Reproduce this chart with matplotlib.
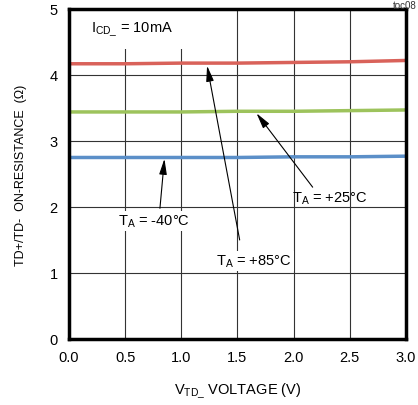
import matplotlib.pyplot as plt
from matplotlib.patches import Rectangle

# -- datos --
V_TD = [0.0, 0.5, 1.0, 1.5, 2.0, 2.5, 3.0]
R_85 = [4.17, 4.17, 4.18, 4.18, 4.19, 4.20, 4.22]
R_25 = [3.44, 3.44, 3.44, 3.45, 3.45, 3.46, 3.47]
R_M40 = [2.75, 2.75, 2.75, 2.75, 2.76, 2.76, 2.77]

XTICKS = [0.0, 0.5, 1.0, 1.5, 2.0, 2.5, 3.0]
YTICKS = [0, 1, 2, 3, 4, 5]

FONT = "Liberation Sans"
plt.rcParams.update({
    "font.family": [FONT, "DejaVu Sans"],
    "font.size": 10.5,
    "mathtext.fontset": "custom",
    "mathtext.rm": FONT,
    "mathtext.it": FONT,
})

fig = plt.figure(figsize=(4.18, 4.06), dpi=100)
ax = fig.add_axes([0.165, 0.1626, 0.806, 0.8128])

ax.plot(V_TD, R_85, color="#d9625a", lw=2.5, zorder=3)
ax.plot(V_TD, R_25, color="#9dc35c", lw=2.5, zorder=3)
ax.plot(V_TD, R_M40, color="#5b8fc8", lw=2.5, zorder=3)

ax.set_xlim(0, 3)
ax.set_ylim(0, 5)
ax.set_xticks(XTICKS)
ax.set_xticklabels([f"{x:.1f}" for x in XTICKS])
ax.set_yticks(YTICKS)
ax.tick_params(length=0, pad=8, labelsize=10.5)

# grid: horizontales por debajo del hueco blanco, verticales encima
ax.grid(axis="y", color="#333333", lw=0.8, zorder=0.5)
for x in XTICKS[1:-1]:
    ax.axvline(x, color="#333333", lw=0.8, zorder=2)
ax.add_patch(Rectangle((1.8, 1.9), 1.05, 0.2, facecolor="white",
                       edgecolor="none", zorder=1))

for s in ax.spines.values():
    s.set_linewidth(2.5)
    s.set_zorder(5)

ax.set_xlabel("V$_{\\mathrm{TD\\_}}$ VOLTAGE (V)", labelpad=12)
ax.set_ylabel("TD+/TD-  ON-RESISTANCE  (\u03a9)", labelpad=16, fontsize=9)

ax.text(0.2, 4.7, "I$_{\\mathrm{CD\\_}}$ = 10mA", va="center", ha="left",
        bbox=dict(facecolor="white", edgecolor="none", pad=8), zorder=2.5)

ap = dict(arrowstyle="-|>,head_length=0.9,head_width=0.22", color="black",
          lw=0.8, shrinkA=0, shrinkB=0)
ax.annotate("", xy=(0.85, 2.73), xytext=(0.81, 1.98), arrowprops=ap, zorder=4)
ax.annotate("", xy=(1.23, 4.14), xytext=(1.52, 1.50), arrowprops=ap, zorder=4)
ax.annotate("", xy=(1.67, 3.42), xytext=(2.17, 2.30), arrowprops=ap, zorder=4)

ax.text(0.76, 1.79, "T$_{\\mathrm{A}}$ = -40\u00b0C", ha="center", va="center",
        bbox=dict(facecolor="white", edgecolor="none", pad=1), zorder=4)
ax.text(1.65, 1.18, "T$_{\\mathrm{A}}$ = +85\u00b0C", ha="center", va="center",
        bbox=dict(facecolor="white", edgecolor="none", pad=1), zorder=4)
ax.text(2.32, 2.14, "T$_{\\mathrm{A}}$ = +25\u00b0C", ha="center", va="center",
        zorder=4)

fig.text(0.997, 0.998, "toc08", ha="right", va="top", fontsize=7, color="#333333")

fig.savefig("out.png", dpi=100)
